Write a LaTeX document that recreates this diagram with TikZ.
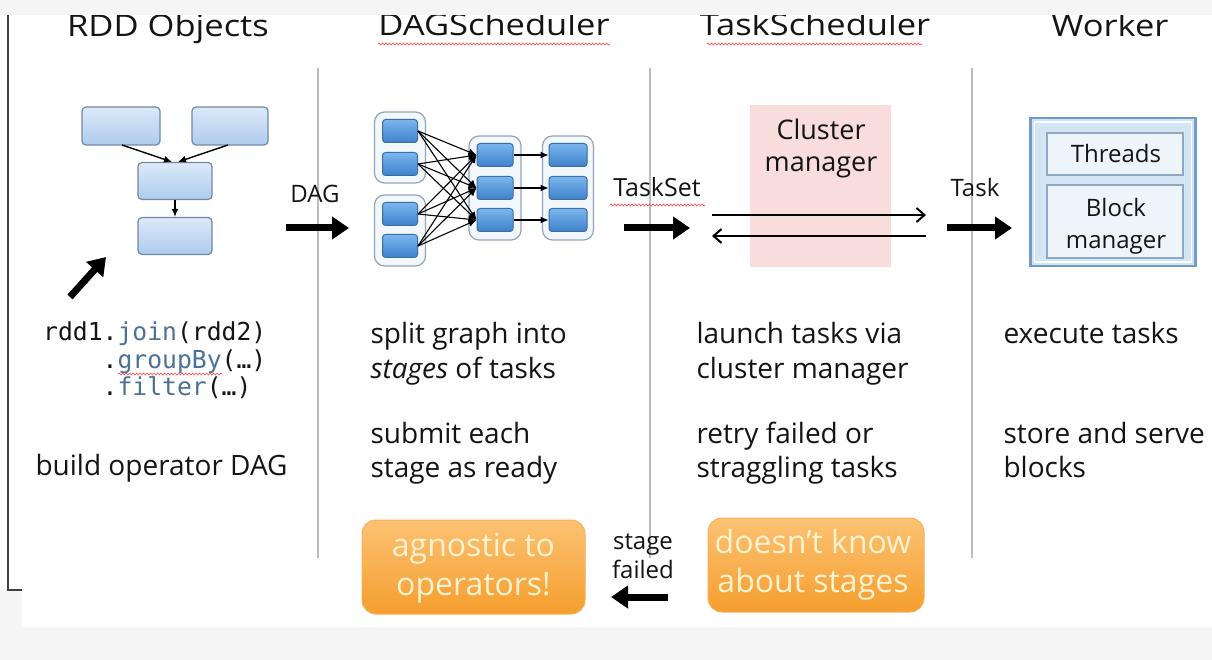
\documentclass[tikz,border=0pt]{standalone}
\usepackage{fontspec}
\setmainfont{Open Sans}
\setmonofont{DejaVu Sans Mono}
\usetikzlibrary{arrows.meta,decorations.pathmorphing}
\definecolor{bggray}{HTML}{F5F5F5}
\definecolor{divgray}{HTML}{BDBDBD}
\definecolor{codeblue}{HTML}{4A7296}
\definecolor{pinkbox}{HTML}{F9DDDD}
\definecolor{orangetop}{HTML}{FCC273}
\definecolor{orangebot}{HTML}{F59E2E}
\definecolor{orangetxt}{HTML}{FFF2D0}
\definecolor{rddtop}{HTML}{DCE9F8}
\definecolor{rddbot}{HTML}{AECBEE}
\definecolor{rddline}{HTML}{6F8AA8}
\definecolor{stagetop}{HTML}{7AB6EE}
\definecolor{stagebot}{HTML}{3F82CB}
\definecolor{stageline}{HTML}{3A6EA5}
\definecolor{grpfill}{HTML}{F2F7FC}
\definecolor{grpline}{HTML}{94A5B6}
\definecolor{workerfill}{HTML}{D3E4F3}
\definecolor{workerline}{HTML}{6E9CC6}
\definecolor{innerline}{HTML}{8FA9C2}
\tikzset{
  heading/.style={font=\fontsize{30}{36}\selectfont, anchor=base, text=black!92},
  body/.style={font=\fontsize{28}{34}\selectfont, anchor=base west, text=black!92},
  code/.style={font=\ttfamily\fontsize{24.7}{30}\selectfont, anchor=base west, text=black!92, inner sep=0pt},
  lbl/.style={font=\fontsize{24}{28}\selectfont, anchor=base, text=black!92},
  rddbox/.style={draw=rddline, line width=1.2pt, rounded corners=4pt, top color=rddtop, bottom color=rddbot},
  stbox/.style={draw=stageline, line width=1pt, rounded corners=3pt, top color=stagetop, bottom color=stagebot},
  grp/.style={draw=grpline, line width=1.2pt, rounded corners=10pt, fill=grpfill},
  divider/.style={draw=divgray, line width=2pt},
  fat/.style={line width=7pt, -{Triangle[length=17pt,width=22pt]}},
  thin/.style={line width=1.4pt, -{Latex[length=8pt,width=7pt]}},
  dagedge/.style={line width=1.1pt, -{Latex[length=8pt,width=7pt]}},
  orangebox/.style={rounded corners=14pt, top color=orangetop, bottom color=orangebot, draw=orangebot!80!white, line width=1pt},
  orangetext/.style={font=\fontsize{32}{38}\selectfont, anchor=base, text=orangetxt},
  squig/.style={draw=red!75, line width=0.6pt, decorate, decoration={snake, amplitude=1pt, segment length=3.5pt}},
}
\begin{document}
\begin{tikzpicture}[x=1pt,y=-1pt]
\useasboundingbox (0,0) rectangle (1212,660);
\fill[white] (0,0) rectangle (1212,660);
% headings
\node[heading] (h1) at (168,37) {\scalebox{1.15}[1]{RDD Objects}};
\node[heading] (h2) at (494,36) {\scalebox{1.15}[1]{DAGScheduler}};
\node[heading] (h3) at (815,36) {\scalebox{1.15}[1]{TaskScheduler}};
\node[heading] (h4) at (1110,37) {\scalebox{1.15}[1]{Worker}};
\fill[bggray] (0,0) rectangle (1212,15);
\draw[squig] (378,44) -- (610,44);
\draw[squig] (707,44) -- (922,44);
% frame and background strips
\fill[bggray] (0,627) rectangle (1212,660);
\fill[bggray] (0,590) rectangle (22,627);
\draw[black!75, line width=1.3pt] (8,15) -- (8,590) -- (22,590);
% dividers
\draw[divider] (318,68) -- (318,558);
\draw[divider] (650,68) -- (650,558);
\draw[divider] (972,68) -- (972,558);
% RDD objects
\node[rddbox, minimum width=78pt, minimum height=38pt] (r1) at (121,126) {};
\node[rddbox, minimum width=76pt, minimum height=38pt] (r2) at (230,126) {};
\node[rddbox, minimum width=74pt, minimum height=37pt] (r3) at (175,181) {};
\node[rddbox, minimum width=74pt, minimum height=37pt] (r4) at (175,236) {};
\draw[thin] (122,145) -- ([xshift=-3pt]r3.north);
\draw[thin] (228,145) -- ([xshift=3pt]r3.north);
\draw[thin] (r3.south) -- (r4.north);
\coordinate (pa) at (70,297);
\coordinate (pb) at (106,257);
\draw[fat] (pa) -- (pb);
% code
\node[code] (c1) at (43,340) {rdd1.\textcolor{codeblue}{join}(rdd2)};
\node[code] (c2) at (102.5,368) {.\textcolor{codeblue}{groupBy}(…)};
\node[code] (c3) at (102.5,395) {.\textcolor{codeblue}{filter}(…)};
\draw[squig] (118,374) -- (222,374);
\node[body] (t1) at (32,475) {build operator DAG};
% DAG arrow
\node[lbl] (dag) at (315,203) {DAG};
\coordinate (da) at (286,228);
\coordinate (db) at (349,228);
\draw[fat] (da) -- (db);
% DAG scheduler stages
\node[grp, minimum width=51pt, minimum height=71pt] (g1) at (400,147.5) {};
\node[grp, minimum width=51pt, minimum height=71pt] (g2) at (400,230.5) {};
\node[grp, minimum width=52pt, minimum height=104pt] (g3) at (495,188) {};
\node[grp, minimum width=51pt, minimum height=104pt] (g4) at (568,188) {};
\node[stbox, minimum width=35pt, minimum height=23pt] (a1) at (400,131) {};
\node[stbox, minimum width=35pt, minimum height=23pt] (a2) at (400,164) {};
\node[stbox, minimum width=35pt, minimum height=23pt] (a3) at (400,214) {};
\node[stbox, minimum width=35pt, minimum height=23pt] (a4) at (400,246) {};
\node[stbox, minimum width=36pt, minimum height=23pt] (b1) at (495,155) {};
\node[stbox, minimum width=36pt, minimum height=23pt] (b2) at (495,188) {};
\node[stbox, minimum width=36pt, minimum height=23pt] (b3) at (495,220) {};
\node[stbox, minimum width=38pt, minimum height=23pt] (e1) at (568,155) {};
\node[stbox, minimum width=38pt, minimum height=23pt] (e2) at (568,188) {};
\node[stbox, minimum width=38pt, minimum height=23pt] (e3) at (568,220) {};
\foreach \s in {a1,a2,a3,a4}{
  \foreach \t in {b1,b2,b3}{
    \draw[dagedge] (\s.east) -- (\t.west);
  }
}
\draw[dagedge] (b1.east) -- (e1.west);
\draw[dagedge] (b2.east) -- (e2.west);
\draw[dagedge] (b3.east) -- (e3.west);
\node[body] (s1) at (367,343) {split graph into};
\node[body] (s2) at (367,378) {\textit{stages} of tasks};
\node[body] (s3) at (367,443) {submit each};
\node[body] (s4) at (367,477) {stage as ready};
% TaskSet
\node[lbl, font=\fontsize{25}{30}\selectfont] (ts) at (657,197) {TaskSet};
\draw[squig] (610,205) -- (705,205);
\coordinate (ta) at (624,228);
\coordinate (tb) at (690,228);
\draw[fat] (ta) -- (tb);
% cluster manager
\node[fill=pinkbox, minimum width=141pt, minimum height=162pt, inner sep=0pt] (cm) at (820.5,186) {};
\node[font=\fontsize{27}{33}\selectfont, anchor=base, text=black!92] (cm1) at (821,140) {Cluster};
\node[font=\fontsize{27}{33}\selectfont, anchor=base, text=black!92] (cm2) at (821,172) {manager};
\coordinate (u1) at (712,215);
\coordinate (u2) at (926,215);
\coordinate (l1) at (926,236);
\coordinate (l2) at (712,236);
\draw[line width=2pt, -{Straight Barb[length=8pt,width=14pt]}] (u1) -- (u2);
\draw[line width=2pt, -{Straight Barb[length=8pt,width=14pt]}] (l1) -- (l2);
\node[body] (q1) at (693,343) {launch tasks via};
\node[body] (q2) at (693,378) {cluster manager};
\node[body] (q3) at (693,443) {retry failed or};
\node[body] (q4) at (693,477) {straggling tasks};
% Task
\node[lbl] (tk) at (975,197) {Task};
\coordinate (ka) at (947,228);
\coordinate (kb) at (1012,228);
\draw[fat] (ka) -- (kb);
% worker
\node[draw=workerline, line width=2.5pt, fill=workerfill, minimum width=165pt, minimum height=148pt, inner sep=0pt] (wk) at (1113,192) {};
\node[draw=white, line width=1.5pt, minimum width=157pt, minimum height=140pt, inner sep=0pt] (wk2) at (1113,192) {};
\node[draw=innerline, line width=1.2pt, fill=white!60!workerfill, minimum width=136pt, minimum height=42pt, inner sep=0pt] (th) at (1115,154) {};
\node[draw=innerline, line width=1.2pt, fill=white!60!workerfill, minimum width=136pt, minimum height=73pt, inner sep=0pt] (bm) at (1115,221.5) {};
\node[lbl] (th1) at (1116,163) {Threads};
\node[lbl] (bm1) at (1116,217) {Block};
\node[lbl] (bm2) at (1116,249) {manager};
\node[body] (w1) at (1000,343) {execute tasks};
\node[body] (w2) at (1000,443) {store and serve};
\node[body] (w3) at (1000,477) {blocks};
% orange notes
\node[orangebox, minimum width=223pt, minimum height=94pt] (o1) at (473.5,567) {};
\node[orangetext] (o1a) at (473.5,556) {agnostic to};
\node[orangetext] (o1b) at (473.5,595) {operators!};
\node[orangebox, minimum width=216pt, minimum height=94pt] (o2) at (816,565) {};
\node[orangetext] (o2a) at (813,553) {doesn’t know};
\node[orangetext] (o2b) at (813,592) {about stages};
\node[lbl] (sf1) at (643,549) {stage};
\node[lbl] (sf2) at (643,578) {failed};
\coordinate (fa) at (668,597);
\coordinate (fb) at (611,597);
\draw[fat] (fa) -- (fb);
\end{tikzpicture}
\end{document}
